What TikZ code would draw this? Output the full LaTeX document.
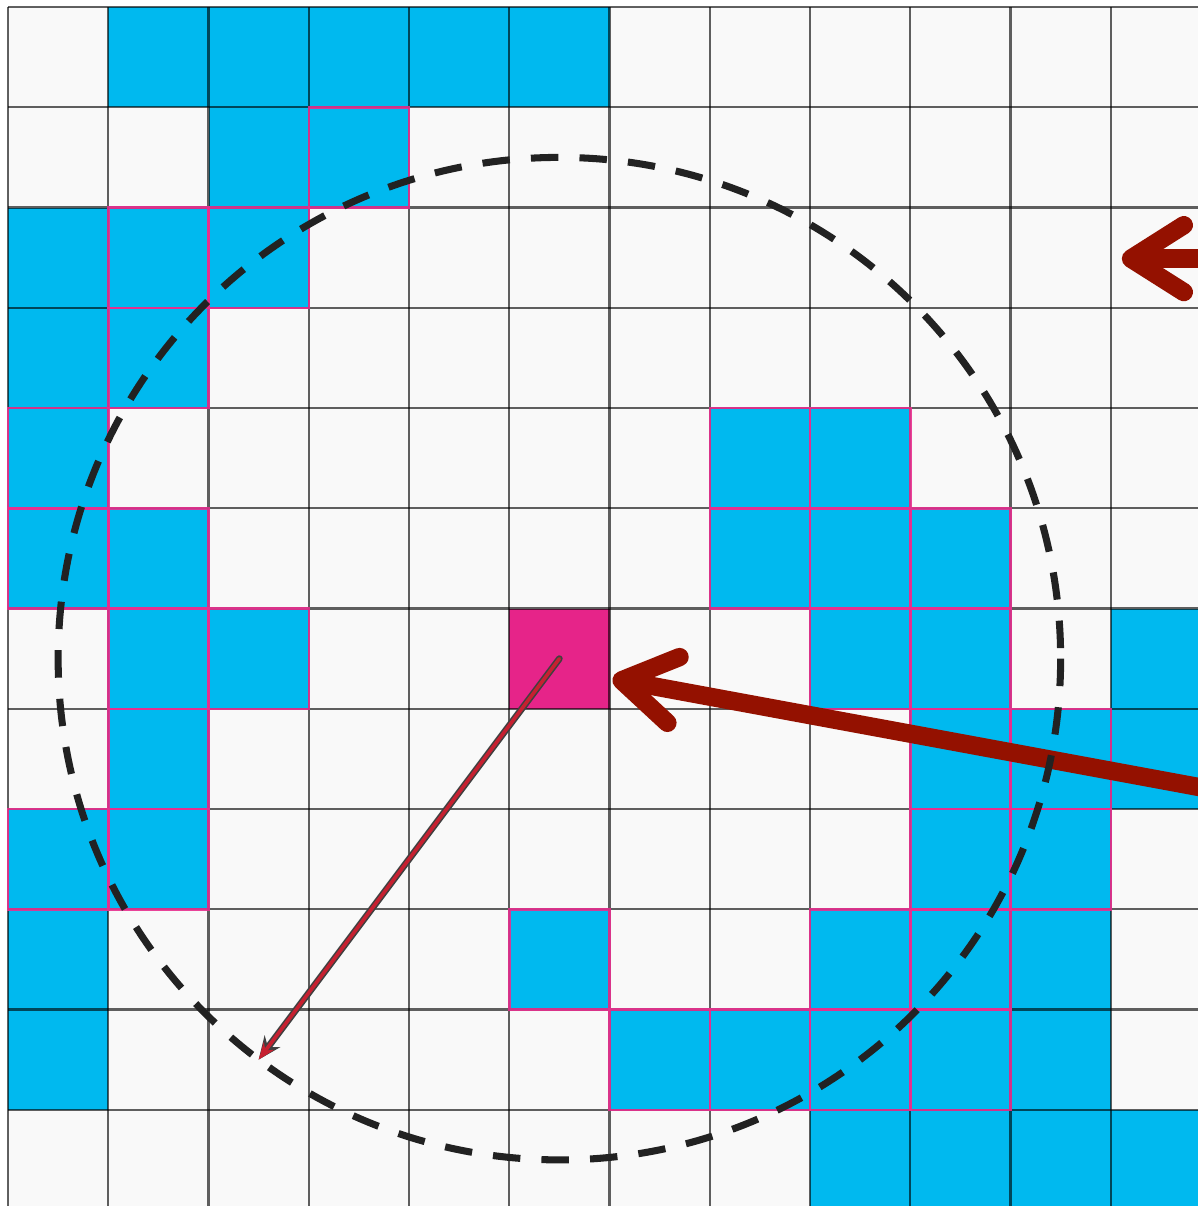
\documentclass[tikz,border=0pt]{standalone}
\usepackage{xcolor}
\usepackage{tikz}
\usetikzlibrary{arrows.meta,positioning,calc}
\definecolor{gridbg}{HTML}{F9F9F9}
\definecolor{cellblue}{HTML}{00B9EF}
\definecolor{cellpink}{HTML}{E62489}
\definecolor{rimpink}{HTML}{E8308F}
\definecolor{pointred}{HTML}{941100}
\definecolor{raybred}{HTML}{C62030}
\definecolor{dashgray}{HTML}{222222}

\begin{document}
\begin{tikzpicture}[
    x=1cm,y=-1cm,
    cible/.style   = {rectangle,fill=cellpink,minimum size=1cm,inner sep=0pt},
    grille/.style  = {black,opacity=0.62,line width=0.6pt},
    bord/.style    = {draw=rimpink,opacity=0.9,line width=0.7pt},
    cercle/.style  = {dashgray,line width=2pt,dash pattern=on 7.8pt off 6pt},
    pointe/.style  = {pointred,line width=5.2pt,
                      -{Straight Barb[length=15pt,width=19pt,round]}},
    rayonout/.style= {black!75,line width=1.9pt,line cap=round,
                      -{Stealth[length=6.5pt,width=5.5pt]}},
    rayonin/.style = {raybred,line width=1pt,line cap=round,
                      -{Stealth[length=4.8pt,width=3.6pt]}},
  ]

  \path[use as bounding box,clip] (-0.08,-0.07) rectangle (11.87,11.96);
  \fill[gridbg] (0,0) rectangle (11.87,11.96);

  % ── Cellules bleues ───────────────────────────────────────────────────────
  \foreach \c/\r in {1/0,2/0,3/0,4/0,5/0, 2/1,3/1, 0/2,1/2,2/2, 0/3,1/3,
                     0/4,7/4,8/4, 0/5,1/5,7/5,8/5,9/5, 1/6,2/6,8/6,9/6,11/6,
                     1/7,9/7,10/7,11/7, 0/8,1/8,9/8,10/8,
                     0/9,5/9,8/9,9/9,10/9, 0/10,6/10,7/10,8/10,9/10,10/10,
                     8/11,9/11,10/11,11/11}
    \fill[cellblue] (\c,\r) rectangle ++(1,1);

  \node[cible] (cible) at (5.5,6.5) {};

  % ── Grille ────────────────────────────────────────────────────────────────
  \foreach \i in {0,...,11} {
    \draw[grille] (0,\i) -- (11.87,\i);
    \draw[grille] (\i,0) -- (\i,11.96);
  }

  % ── Voisins dans le rayon ─────────────────────────────────────────────────
  \foreach \c/\r in {3/1, 1/2,2/2, 1/3, 0/4,7/4,8/4, 0/5,1/5,7/5,8/5,9/5,
                     1/6,2/6,8/6,9/6, 1/7,9/7,10/7, 0/8,1/8,9/8,10/8,
                     5/9,8/9,9/9, 6/10,7/10,8/10,9/10}
    \draw[bord] (\c,\r) rectangle ++(1,1);

  % ── Flèches ───────────────────────────────────────────────────────────────
  \coordinate (centre) at (cible.center);
  \coordinate (bordc)  at (2.5,10.5);
  \coordinate (impact) at (6.03,6.70);
  \coordinate (srcA)   at (13.5,8.08);
  \coordinate (haut)   at (11.11,2.51);
  \coordinate (srcB)   at (13.5,2.51);

  \draw[rayonout] (centre) -- (bordc);
  \draw[rayonin]  (centre) -- (bordc);

  \draw[pointe] (srcA) -- (impact);
  \draw[pointe] (srcB) -- (haut);

  \draw[cercle] (centre) circle (5);

\end{tikzpicture}
\end{document}
